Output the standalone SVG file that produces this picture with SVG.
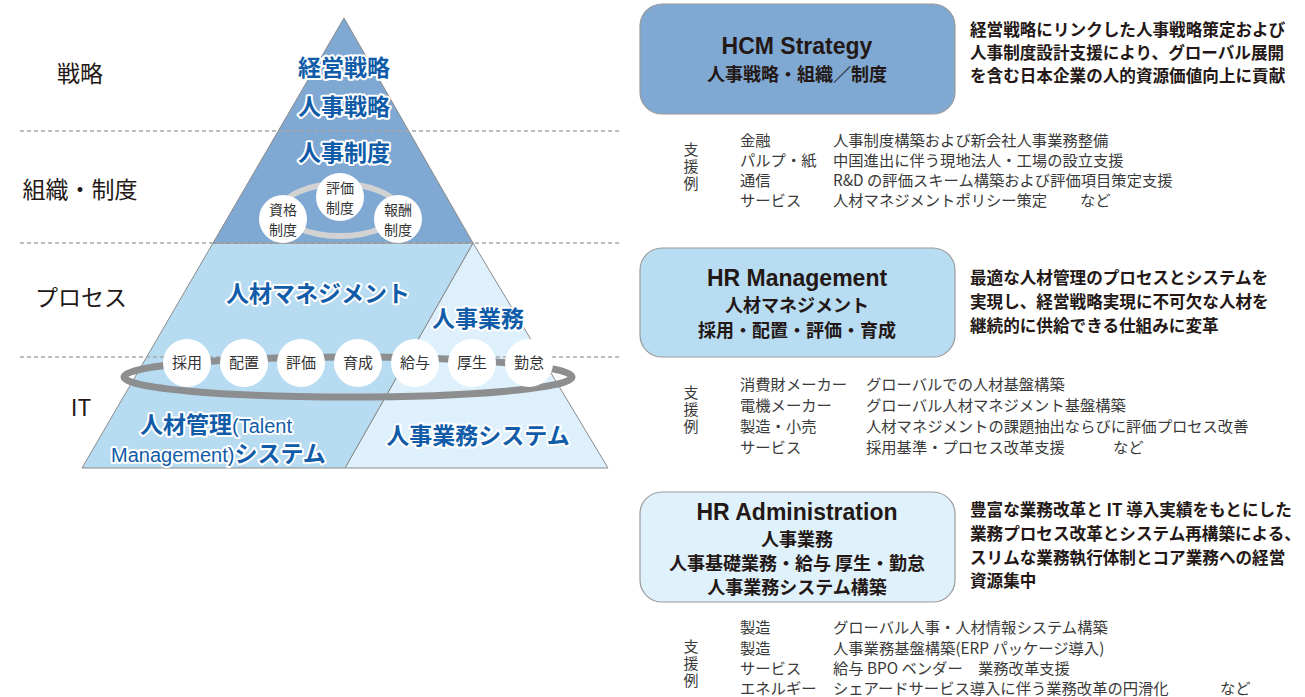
<svg xmlns="http://www.w3.org/2000/svg" width="1305" height="697" viewBox="0 0 1305 697">
<style>
.lbl{font-family:"Noto Sans CJK JP",sans-serif;font-size:23px;fill:#231815;text-anchor:middle}
.pt{font-family:"Noto Sans CJK JP","Liberation Sans",sans-serif;font-size:23px;font-weight:bold;fill:#115ca8;stroke:#fff;stroke-width:4;stroke-linejoin:round;paint-order:stroke;text-anchor:middle}
.pts{font-family:"Noto Sans CJK JP","Liberation Sans",sans-serif;font-size:23px;font-weight:bold;fill:#115ca8;stroke:#fff;stroke-width:4;stroke-linejoin:round;paint-order:stroke;text-anchor:start}
.lat{font-family:"Liberation Sans","Noto Sans CJK JP",sans-serif;font-weight:normal;font-size:20px}
.dash{stroke:#a8a8a8;stroke-width:1.5;stroke-dasharray:4 3;fill:none}
.circ{fill:#fff}
.ct{font-family:"Noto Sans CJK JP",sans-serif;font-size:14px;fill:#333;text-anchor:middle}
.ct2{font-family:"Noto Sans CJK JP",sans-serif;font-size:15px;fill:#333;text-anchor:middle}
.box{stroke:#9a9a9a;stroke-width:1.2}
.bt{font-family:"Liberation Sans","Noto Sans CJK JP",sans-serif;font-size:23px;font-weight:bold;fill:#231815;text-anchor:middle}
.bj{font-family:"Noto Sans CJK JP",sans-serif;font-size:18px;font-weight:bold;fill:#231815;text-anchor:middle}
.desc{font-family:"Noto Sans CJK JP",sans-serif;font-size:16.6px;font-weight:bold;fill:#231815}
.sup{font-family:"Noto Sans CJK JP","Liberation Sans",sans-serif;font-size:15.3px;fill:#3a3a3a}
.vt{font-family:"Noto Sans CJK JP",sans-serif;font-size:15px;fill:#3a3a3a;writing-mode:vertical-rl;letter-spacing:2px}
</style>

<g id="pyramid">
  <polygon points="473,243 608,468 345,468" fill="#ddf0fb" stroke="#8a8a8a" stroke-width="1"/>
  <polygon points="213,243 473,243 345,468 82,468" fill="#b7dbf1" stroke="#8a8a8a" stroke-width="1"/>
  <polygon points="344,18 473,243 213,243" fill="#7fa9d3" stroke="#8a8a8a" stroke-width="1"/>
</g>

<g id="dividers">
  <line class="dash" x1="20" y1="131" x2="620" y2="131"/>
  <line class="dash" x1="20" y1="243" x2="620" y2="243"/>
  <line class="dash" x1="20" y1="357" x2="620" y2="357"/>
</g>

<g id="layer-labels">
  <text class="lbl" x="80" y="82">戦略</text>
  <text class="lbl" x="80" y="198">組織・制度</text>
  <text class="lbl" x="81" y="306">プロセス</text>
  <text class="lbl" x="81" y="416">IT</text>
</g>

<g id="pyramid-texts">
  <text class="pt" x="344" y="76">経営戦略</text>
  <text class="pt" x="344" y="115">人事戦略</text>
  <text class="pt" x="344" y="161">人事制度</text>
  <text class="pt" x="318" y="302">人材マネジメント</text>
  <text class="pt" x="478" y="327">人事業務</text>
  <text class="pt" x="478" y="444">人事業務システム</text>
  <text class="pts" x="140" y="433">人材管理<tspan class="lat">(Talent</tspan></text>
  <text class="pts" x="111" y="462"><tspan class="lat">Management)</tspan>システム</text>
</g>

<g id="system-ring">
  <ellipse cx="340" cy="210" rx="58" ry="26" fill="none" stroke="#d2d2d2" stroke-width="6"/>
  <g id="node-hyoka-seido"><circle class="circ" cx="340" cy="197" r="24"/><text class="ct" x="340" y="193">評価</text><text class="ct" x="340" y="213">制度</text></g>
  <g id="node-shikaku-seido"><circle class="circ" cx="283" cy="219" r="24"/><text class="ct" x="283" y="215">資格</text><text class="ct" x="283" y="235">制度</text></g>
  <g id="node-hoshu-seido"><circle class="circ" cx="398" cy="219" r="24"/><text class="ct" x="398" y="215">報酬</text><text class="ct" x="398" y="235">制度</text></g>
</g>

<g id="process-ring">
  <ellipse cx="348" cy="377" rx="224" ry="20" fill="none" stroke="#8d8e90" stroke-width="7"/>
  <g id="node-saiyo"><circle class="circ" cx="187" cy="363" r="24"/><text class="ct2" x="187" y="368">採用</text></g>
  <g id="node-haichi"><circle class="circ" cx="244" cy="363" r="24"/><text class="ct2" x="244" y="368">配置</text></g>
  <g id="node-hyoka"><circle class="circ" cx="301" cy="363" r="24"/><text class="ct2" x="301" y="368">評価</text></g>
  <g id="node-ikusei"><circle class="circ" cx="358" cy="363" r="24"/><text class="ct2" x="358" y="368">育成</text></g>
  <g id="node-kyuyo"><circle class="circ" cx="415" cy="363" r="24"/><text class="ct2" x="415" y="368">給与</text></g>
  <g id="node-kosei"><circle class="circ" cx="472" cy="363" r="24"/><text class="ct2" x="472" y="368">厚生</text></g>
  <g id="node-kintai"><circle class="circ" cx="529" cy="363" r="24"/><text class="ct2" x="529" y="368">勤怠</text></g>
</g>

<g id="box-hcm">
  <rect class="box" x="640" y="4" width="315" height="110" rx="22" fill="#7fa9d3"/>
  <text class="bt" x="797" y="54">HCM Strategy</text>
  <text class="bj" x="797" y="81">人事戦略・組織／制度</text>
  <text class="desc" x="970" y="36">経営戦略にリンクした人事戦略策定および</text>
  <text class="desc" x="970" y="59">人事制度設計支援により、グローバル展開</text>
  <text class="desc" x="970" y="82">を含む日本企業の人的資源価値向上に貢献</text>
</g>

<g id="support-hcm">
  <text class="vt" x="691" y="142">支援例</text>
  <text class="sup" x="740" y="146">金融</text><text class="sup" x="833" y="146">人事制度構築および新会社人事業務整備</text>
  <text class="sup" x="740" y="166">パルプ・紙</text><text class="sup" x="833" y="166">中国進出に伴う現地法人・工場の設立支援</text>
  <text class="sup" x="740" y="186">通信</text><text class="sup" x="833" y="186">R&amp;D の評価スキーム構築および評価項目策定支援</text>
  <text class="sup" x="740" y="206">サービス</text><text class="sup" x="833" y="206">人材マネジメントポリシー策定</text><text class="sup" x="1080" y="206">など</text>
</g>

<g id="box-hrm">
  <rect class="box" x="640" y="248" width="315" height="109" rx="22" fill="#b8dcf2"/>
  <text class="bt" x="797" y="286">HR Management</text>
  <text class="bj" x="797" y="312">人材マネジメント</text>
  <text class="bj" x="797" y="337">採用・配置・評価・育成</text>
  <text class="desc" x="970" y="284">最適な人材管理のプロセスとシステムを</text>
  <text class="desc" x="970" y="308">実現し、経営戦略実現に不可欠な人材を</text>
  <text class="desc" x="970" y="332">継続的に供給できる仕組みに変革</text>
</g>

<g id="support-hrm">
  <text class="vt" x="691" y="385">支援例</text>
  <text class="sup" x="740" y="390">消費財メーカー</text><text class="sup" x="866" y="390">グローバルでの人材基盤構築</text>
  <text class="sup" x="740" y="411">電機メーカー</text><text class="sup" x="866" y="411">グローバル人材マネジメント基盤構築</text>
  <text class="sup" x="740" y="432">製造・小売</text><text class="sup" x="866" y="432">人材マネジメントの課題抽出ならびに評価プロセス改善</text>
  <text class="sup" x="740" y="453">サービス</text><text class="sup" x="866" y="453">採用基準・プロセス改革支援</text><text class="sup" x="1113" y="453">など</text>
</g>

<g id="box-hra">
  <rect class="box" x="640" y="492" width="315" height="110" rx="22" fill="#dff1fb"/>
  <text class="bt" x="797" y="520">HR Administration</text>
  <text class="bj" x="797" y="546">人事業務</text>
  <text class="bj" x="797" y="570">人事基礎業務・給与 厚生・勤怠</text>
  <text class="bj" x="797" y="594">人事業務システム構築</text>
  <text class="desc" x="970" y="516">豊富な業務改革と IT 導入実績をもとにした</text>
  <text class="desc" x="970" y="540">業務プロセス改革とシステム再構築による、</text>
  <text class="desc" x="970" y="564">スリムな業務執行体制とコア業務への経営</text>
  <text class="desc" x="970" y="587">資源集中</text>
</g>

<g id="support-hra">
  <text class="vt" x="691" y="639">支援例</text>
  <text class="sup" x="740" y="633">製造</text><text class="sup" x="833" y="633">グローバル人事・人材情報システム構築</text>
  <text class="sup" x="740" y="654">製造</text><text class="sup" x="833" y="654">人事業務基盤構築(ERP パッケージ導入)</text>
  <text class="sup" x="740" y="674">サービス</text><text class="sup" x="833" y="674">給与 BPO ベンダー　業務改革支援</text>
  <text class="sup" x="740" y="694">エネルギー</text><text class="sup" x="833" y="694">シェアードサービス導入に伴う業務改革の円滑化</text><text class="sup" x="1220" y="694">など</text>
</g>
</svg>
